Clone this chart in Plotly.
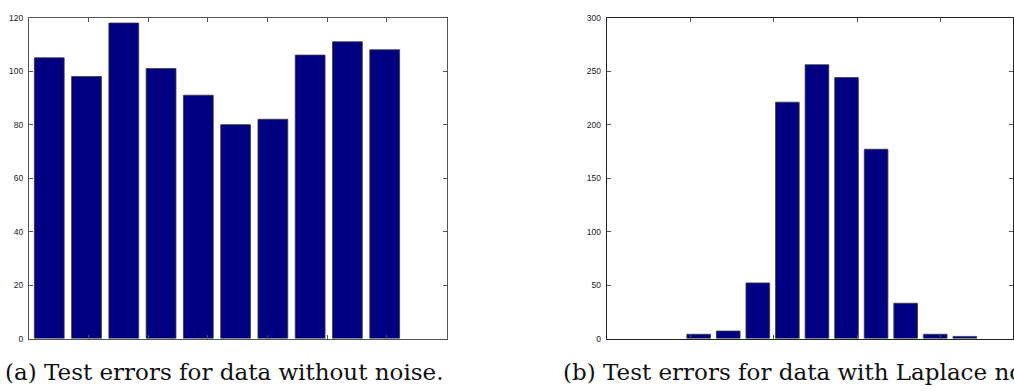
import plotly.graph_objects as go
from plotly.subplots import make_subplots

# Histogram counts of test errors (1000 runs each)
bins = list(range(1, 11))
errors_clean = [105, 98, 118, 101, 91, 80, 82, 106, 111, 108]
errors_laplace = [4, 7, 52, 221, 256, 244, 177, 33, 4, 2]

caption_a = "(a) Test errors for data without noise."
caption_b = "(b) Test errors for data with Laplace noise."

W, H = 1014, 391
BAR = "#000080"

fig = make_subplots(rows=1, cols=2)

fig.add_trace(go.Bar(x=bins, y=errors_clean, marker=dict(color=BAR, line=dict(color="#3a3a3a", width=0.8))), row=1, col=1)
fig.add_trace(go.Bar(x=bins, y=errors_laplace, marker=dict(color=BAR, line=dict(color="#3a3a3a", width=0.8))), row=1, col=2)

ydom = [1 - 342.3 / H, 1 - 13 / H]
tickfont = dict(family="Liberation Sans, Arial, sans-serif", size=8.5, color="#222")

common_x = dict(showline=True, mirror="ticks", ticks="inside", ticklen=4, tickwidth=1,
                showticklabels=False, showgrid=False, zeroline=False)
common_y = dict(showline=True, mirror="ticks", ticks="inside", ticklen=4, tickwidth=1,
                showgrid=False, zeroline=False, tickfont=tickfont, ticklabelstandoff=3)

fig.update_layout(
    width=W, height=H, margin=dict(l=0, r=0, t=0, b=0),
    paper_bgcolor="white", plot_bgcolor="white", showlegend=False, bargap=0.2,
    xaxis=dict(domain=[29 / W, 447 / W], range=[0.456, 11.66], tickmode="linear",
               tick0=2.056, dtick=1.6, linecolor="#555", tickcolor="#555", **common_x),
    yaxis=dict(domain=ydom, range=[0, 120], tickmode="linear", tick0=0, dtick=20,
               linecolor="#555", tickcolor="#555", **common_y),
    xaxis2=dict(domain=[607.3 / W, 1.0], range=[-2.11, 11.63], tickmode="linear",
                tick0=0.72, dtick=2.82, linecolor="#222", tickcolor="#555", **common_x),
    yaxis2=dict(domain=ydom, range=[0, 300], tickmode="linear", tick0=0, dtick=50,
                linecolor="#222", tickcolor="#555", **common_y),
)

capfont = dict(family="DejaVu Serif, serif", size=23, color="#111")
fig.add_annotation(text=caption_a, xref="paper", yref="paper", x=3 / W, y=1 - 377 / H,
                   xanchor="left", yanchor="middle", showarrow=False, font=capfont)
fig.add_annotation(text=caption_b, xref="paper", yref="paper", x=562 / W, y=1 - 377 / H,
                   xanchor="left", yanchor="middle", showarrow=False, font=capfont)

fig.write_html("out.html")
